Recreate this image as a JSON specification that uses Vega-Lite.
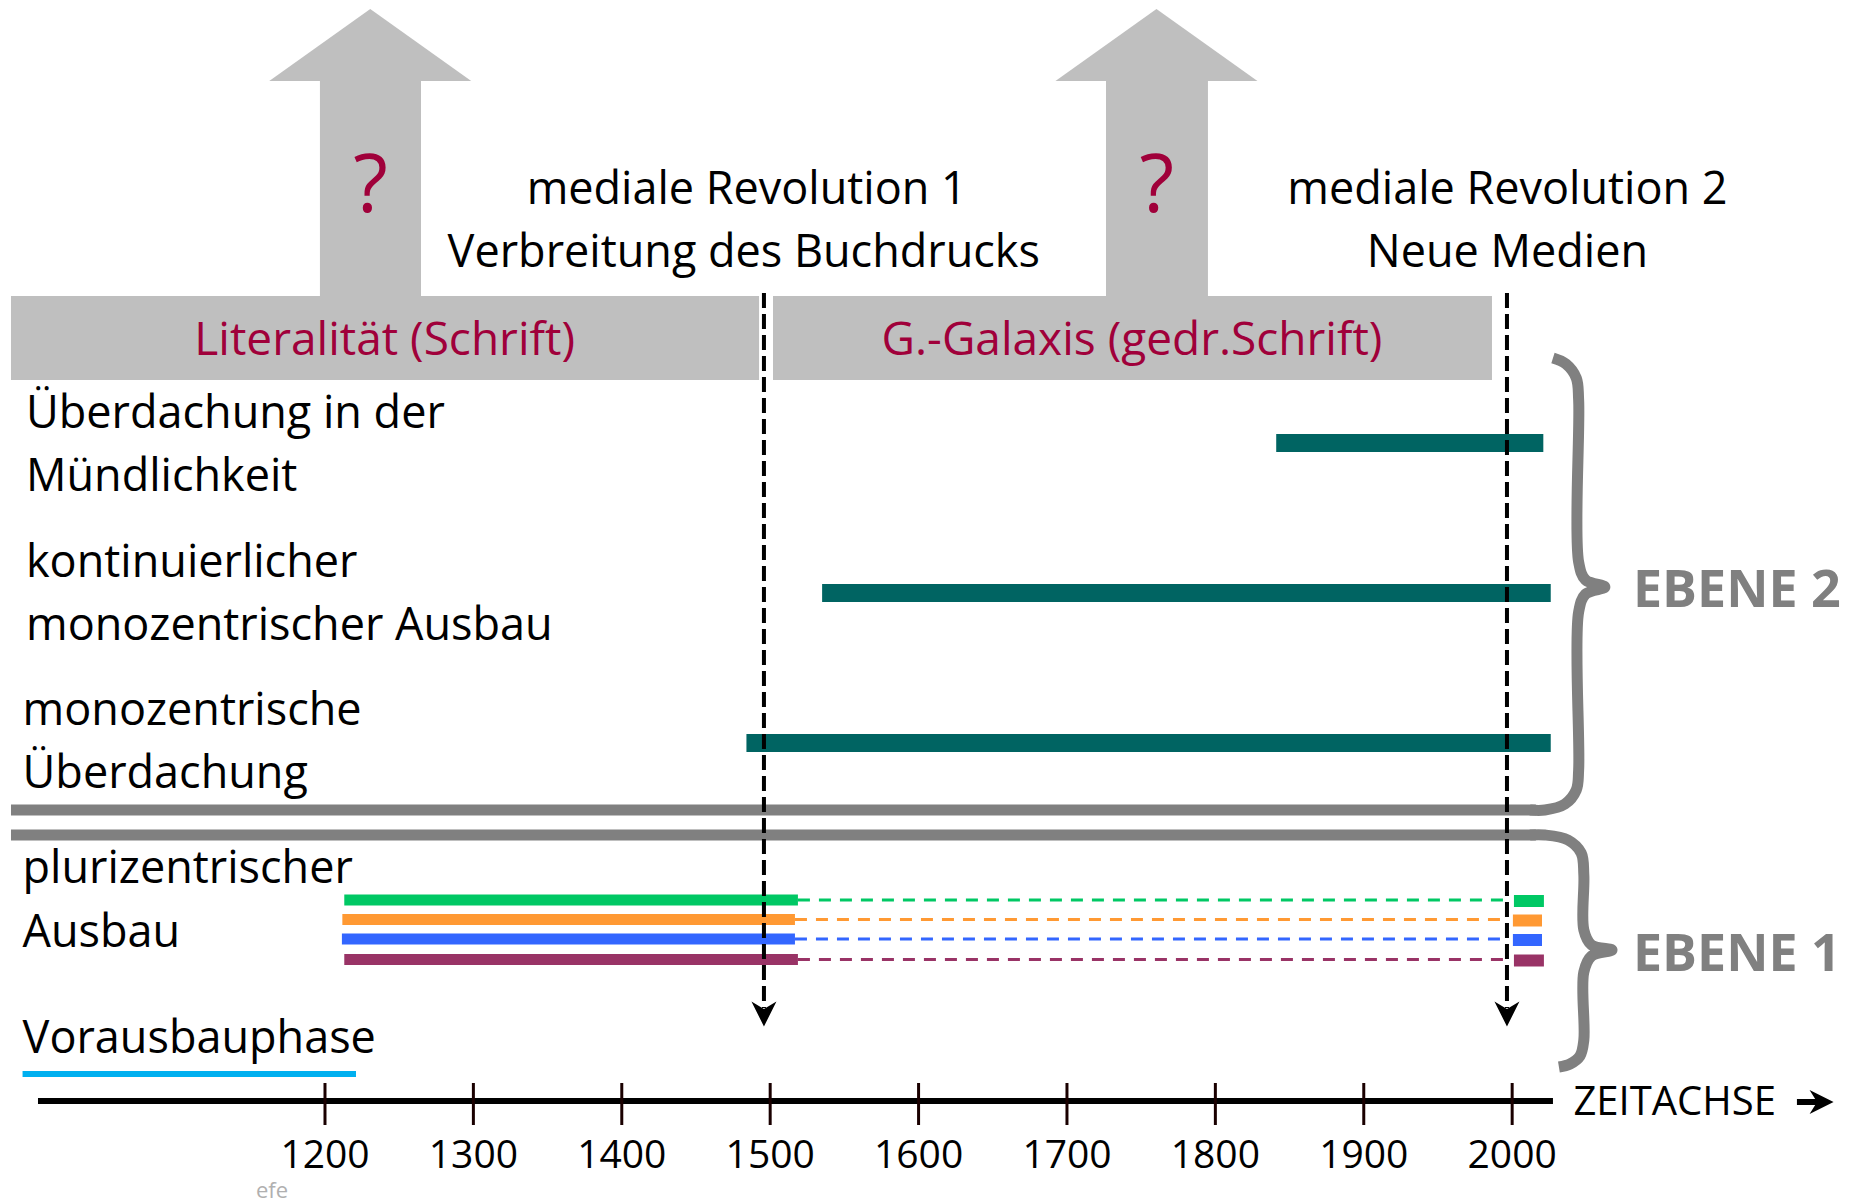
{
  "$schema": "https://vega.github.io/schema/vega-lite/v6.json",
  "width": 1860,
  "height": 1204,
  "autosize": {"type": "fit", "contains": "padding"},
  "padding": 0,
  "background": "white",
  "config": {"view": {"stroke": null}, "text": {"font": "Open Sans"}},
  "datasets": {
    "grayrects": [
      {"x": 1196.6, "x2": 1264.7, "y": 78, "y2": 297},
      {"x": 1726.3, "x2": 1795, "y": 78, "y2": 297},
      {"x": 988.4, "x2": 1492.5, "y": 296, "y2": 380},
      {"x": 1501.9, "x2": 1986.4, "y": 296, "y2": 380}
    ],
    "heads": [{"x": 1230.5, "y": 45}, {"x": 1760.3, "y": 45}],
    "question": [{"x": 1230.7, "y": 212, "t": "?"}, {"x": 1760.5, "y": 212, "t": "?"}],
    "headings": [
      {"x": 1484.2, "y": 204, "t": "mediale Revolution 1"},
      {"x": 1482.2, "y": 267, "t": "Verbreitung des Buchdrucks"},
      {"x": 1996.8, "y": 204, "t": "mediale Revolution 2"},
      {"x": 1996.8, "y": 267, "t": "Neue Medien"}
    ],
    "phases": [
      {"x": 1240.2, "y": 355, "t": "Literalität (Schrift)"},
      {"x": 1743.8, "y": 355, "t": "G.-Galaxis (gedr.Schrift)"}
    ],
    "labels": [
      {"x": 998.5, "y": 428, "t": "Überdachung in der"},
      {"x": 998.5, "y": 491, "t": "Mündlichkeit"},
      {"x": 998.5, "y": 577, "t": "kontinuierlicher"},
      {"x": 998.5, "y": 640, "t": "monozentrischer Ausbau"},
      {"x": 996.2, "y": 725, "t": "monozentrische"},
      {"x": 996.2, "y": 788, "t": "Überdachung"},
      {"x": 996.2, "y": 883, "t": "plurizentrischer"},
      {"x": 996.2, "y": 947, "t": "Ausbau"},
      {"x": 996.2, "y": 1053, "t": "Vorausbauphase"}
    ],
    "ebene": [
      {"x": 2081.4, "y": 607, "t": "EBENE 2"},
      {"x": 2081.4, "y": 971, "t": "EBENE 1"}
    ],
    "teal": [
      {"x": 1841, "x2": 2021, "y": 443},
      {"x": 1535, "x2": 2026, "y": 593},
      {"x": 1484, "x2": 2026, "y": 743}
    ],
    "pluri": [
      {"part": "solid", "s": "g", "x": 1213, "x2": 1518.7, "y": 900},
      {"part": "solid", "s": "o", "x": 1211.7, "x2": 1516.7, "y": 919.5},
      {"part": "solid", "s": "b", "x": 1211.4, "x2": 1516.7, "y": 939},
      {"part": "solid", "s": "p", "x": 1213, "x2": 1518.7, "y": 959.5},
      {"part": "dash", "s": "g", "x": 1518.7, "x2": 1997.2, "y": 900},
      {"part": "dash", "s": "o", "x": 1516.7, "x2": 1997.2, "y": 919.5},
      {"part": "dash", "s": "b", "x": 1516.7, "x2": 1997.2, "y": 939},
      {"part": "dash", "s": "p", "x": 1518.7, "x2": 1997.2, "y": 959.5},
      {"part": "end", "s": "g", "x": 2001.2, "x2": 2021.4, "y": 901},
      {"part": "end", "s": "o", "x": 2000.5, "x2": 2020.1, "y": 920.5},
      {"part": "end", "s": "b", "x": 2000.5, "x2": 2020.1, "y": 940},
      {"part": "end", "s": "p", "x": 2001.2, "x2": 2021.4, "y": 960.5}
    ],
    "vlines": [{"x": 1495.8, "y": 293, "y2": 1008}, {"x": 1996.5, "y": 293, "y2": 1008}],
    "vheads": [{"x": 1495.8, "y": 1014}, {"x": 1996.5, "y": 1014}],
    "axisline": [{"x": 1006.6, "x2": 2027.5, "y": 1101}],
    "ticks": [
      {"year": 1200, "label": "1200"}, {"year": 1300, "label": "1300"}, {"year": 1400, "label": "1400"},
      {"year": 1500, "label": "1500"}, {"year": 1600, "label": "1600"}, {"year": 1700, "label": "1700"},
      {"year": 1800, "label": "1800"}, {"year": 1900, "label": "1900"}, {"year": 2000, "label": "2000"}
    ],
    "underline": [{"x": 996.2, "x2": 1220.9, "y": 1074}],
    "separators": [
      {"x": 988.4, "x2": 2016, "y": 810},
      {"x": 988.4, "x2": 2016, "y": 835}
    ],
    "braces": [
      {"b": 2, "o": 1, "x": 2012, "y": 810},
      {"b": 2, "o": 2, "x": 2022.1, "y": 810},
      {"b": 2, "o": 3, "x": 2035.6, "y": 804},
      {"b": 2, "o": 4, "x": 2043.2, "y": 790},
      {"b": 2, "o": 5, "x": 2044.8, "y": 770},
      {"b": 2, "o": 6, "x": 2044.8, "y": 612},
      {"b": 2, "o": 7, "x": 2049.5, "y": 594},
      {"b": 2, "o": 8, "x": 2062.5, "y": 587},
      {"b": 2, "o": 9, "x": 2049.5, "y": 580},
      {"b": 2, "o": 10, "x": 2044.8, "y": 562},
      {"b": 2, "o": 11, "x": 2044.8, "y": 400},
      {"b": 2, "o": 12, "x": 2043.2, "y": 378},
      {"b": 2, "o": 13, "x": 2036.3, "y": 364},
      {"b": 2, "o": 14, "x": 2027.5, "y": 358},
      {"b": 1, "o": 1, "x": 2012, "y": 835},
      {"b": 1, "o": 2, "x": 2022.1, "y": 835},
      {"b": 1, "o": 3, "x": 2037.6, "y": 840},
      {"b": 1, "o": 4, "x": 2046.5, "y": 853},
      {"b": 1, "o": 5, "x": 2048.3, "y": 875},
      {"b": 1, "o": 6, "x": 2048.3, "y": 930},
      {"b": 1, "o": 7, "x": 2053.5, "y": 945},
      {"b": 1, "o": 8, "x": 2067.3, "y": 950},
      {"b": 1, "o": 9, "x": 2053.5, "y": 956},
      {"b": 1, "o": 10, "x": 2048.3, "y": 972},
      {"b": 1, "o": 11, "x": 2048.3, "y": 1040},
      {"b": 1, "o": 12, "x": 2045.7, "y": 1056},
      {"b": 1, "o": 13, "x": 2039, "y": 1064},
      {"b": 1, "o": 14, "x": 2031.5, "y": 1067}
    ],
    "zeit": [{"x": 2041.3, "y": 1115, "t": "ZEITACHSE"}],
    "zshaft": [{"x": 2191.9, "x2": 2210, "y": 1102}],
    "zhead": [{"x": 2208.5, "y": 1102}],
    "efe": [{"x": 1164.3, "y": 1198, "t": "efe"}]
  },
  "layer": [
    {
      "data": {"name": "grayrects"},
      "mark": {"type": "rect", "color": "#BFBFBF"},
      "encoding": {
        "x": {"field": "x", "type": "quantitative", "scale": {"domain": [981, 2234.4], "nice": false, "zero": false}, "axis": null},
        "x2": {"field": "x2"},
        "y": {"field": "y", "type": "quantitative", "scale": {"domain": [0, 1204], "reverse": true, "nice": false, "zero": false}, "axis": null},
        "y2": {"field": "y2"}
      }
    },
    {
      "data": {"name": "heads"},
      "mark": {"type": "point", "filled": true, "color": "#BFBFBF", "opacity": 1, "shape": "M-1,0.356L0,-0.356L1,0.356Z", "size": 40804, "strokeWidth": 0},
      "encoding": {
        "x": {"field": "x", "type": "quantitative", "scale": {"domain": [981, 2234.4], "nice": false, "zero": false}, "axis": null},
        "y": {"field": "y", "type": "quantitative", "scale": {"domain": [0, 1204], "reverse": true, "nice": false, "zero": false}, "axis": null}
      }
    },
    {
      "data": {"name": "question"},
      "mark": {"type": "text", "color": "#A0003A", "fontSize": 80, "align": "center", "baseline": "alphabetic"},
      "encoding": {
        "x": {"field": "x", "type": "quantitative", "scale": {"domain": [981, 2234.4], "nice": false, "zero": false}, "axis": null},
        "y": {"field": "y", "type": "quantitative", "scale": {"domain": [0, 1204], "reverse": true, "nice": false, "zero": false}, "axis": null},
        "text": {"field": "t"}
      }
    },
    {
      "data": {"name": "headings"},
      "mark": {"type": "text", "color": "#000000", "fontSize": 45, "align": "center", "baseline": "alphabetic"},
      "encoding": {
        "x": {"field": "x", "type": "quantitative", "scale": {"domain": [981, 2234.4], "nice": false, "zero": false}, "axis": null},
        "y": {"field": "y", "type": "quantitative", "scale": {"domain": [0, 1204], "reverse": true, "nice": false, "zero": false}, "axis": null},
        "text": {"field": "t"}
      }
    },
    {
      "data": {"name": "phases"},
      "mark": {"type": "text", "color": "#A0003A", "fontSize": 46, "align": "center", "baseline": "alphabetic"},
      "encoding": {
        "x": {"field": "x", "type": "quantitative", "scale": {"domain": [981, 2234.4], "nice": false, "zero": false}, "axis": null},
        "y": {"field": "y", "type": "quantitative", "scale": {"domain": [0, 1204], "reverse": true, "nice": false, "zero": false}, "axis": null},
        "text": {"field": "t"}
      }
    },
    {
      "data": {"name": "labels"},
      "mark": {"type": "text", "color": "#000000", "fontSize": 45, "align": "left", "baseline": "alphabetic"},
      "encoding": {
        "x": {"field": "x", "type": "quantitative", "scale": {"domain": [981, 2234.4], "nice": false, "zero": false}, "axis": null},
        "y": {"field": "y", "type": "quantitative", "scale": {"domain": [0, 1204], "reverse": true, "nice": false, "zero": false}, "axis": null},
        "text": {"field": "t"}
      }
    },
    {
      "data": {"name": "underline"},
      "mark": {"type": "rule", "color": "#00B0F0", "strokeWidth": 6},
      "encoding": {
        "x": {"field": "x", "type": "quantitative", "scale": {"domain": [981, 2234.4], "nice": false, "zero": false}, "axis": null},
        "x2": {"field": "x2"},
        "y": {"field": "y", "type": "quantitative", "scale": {"domain": [0, 1204], "reverse": true, "nice": false, "zero": false}, "axis": null}
      }
    },
    {
      "data": {"name": "separators"},
      "mark": {"type": "rule", "color": "#808080", "strokeWidth": 11, "strokeCap": "butt"},
      "encoding": {
        "x": {"field": "x", "type": "quantitative", "scale": {"domain": [981, 2234.4], "nice": false, "zero": false}, "axis": null},
        "x2": {"field": "x2"},
        "y": {"field": "y", "type": "quantitative", "scale": {"domain": [0, 1204], "reverse": true, "nice": false, "zero": false}, "axis": null}
      }
    },
    {
      "data": {"name": "braces"},
      "mark": {"type": "line", "color": "#808080", "strokeWidth": 11, "interpolate": "catmull-rom", "strokeCap": "butt", "strokeJoin": "round"},
      "encoding": {
        "x": {"field": "x", "type": "quantitative", "scale": {"domain": [981, 2234.4], "nice": false, "zero": false}, "axis": null},
        "y": {"field": "y", "type": "quantitative", "scale": {"domain": [0, 1204], "reverse": true, "nice": false, "zero": false}, "axis": null},
        "detail": {"field": "b", "type": "nominal"},
        "order": {"field": "o", "type": "quantitative"}
      }
    },
    {
      "data": {"name": "ebene"},
      "mark": {"type": "text", "color": "#808080", "fontSize": 52, "fontWeight": "bold", "align": "left", "baseline": "alphabetic"},
      "encoding": {
        "x": {"field": "x", "type": "quantitative", "scale": {"domain": [981, 2234.4], "nice": false, "zero": false}, "axis": null},
        "y": {"field": "y", "type": "quantitative", "scale": {"domain": [0, 1204], "reverse": true, "nice": false, "zero": false}, "axis": null},
        "text": {"field": "t"}
      }
    },
    {
      "data": {"name": "teal"},
      "mark": {"type": "rule", "color": "#006462", "strokeWidth": 18, "strokeCap": "butt"},
      "encoding": {
        "x": {"field": "x", "type": "quantitative", "scale": {"domain": [981, 2234.4], "nice": false, "zero": false}, "axis": null},
        "x2": {"field": "x2"},
        "y": {"field": "y", "type": "quantitative", "scale": {"domain": [0, 1204], "reverse": true, "nice": false, "zero": false}, "axis": null}
      }
    },
    {
      "data": {"name": "pluri"},
      "transform": [{"filter": "datum.part === 'solid'"}],
      "mark": {"type": "rule", "strokeWidth": 11, "strokeCap": "butt"},
      "encoding": {
        "x": {"field": "x", "type": "quantitative", "scale": {"domain": [981, 2234.4], "nice": false, "zero": false}, "axis": null},
        "x2": {"field": "x2"},
        "y": {"field": "y", "type": "quantitative", "scale": {"domain": [0, 1204], "reverse": true, "nice": false, "zero": false}, "axis": null},
        "color": {"field": "s", "type": "nominal", "scale": {"domain": ["g", "o", "b", "p"], "range": ["#00C864", "#FF9933", "#3366FF", "#993366"]}, "legend": null}
      }
    },
    {
      "data": {"name": "pluri"},
      "transform": [{"filter": "datum.part === 'dash'"}],
      "mark": {"type": "rule", "strokeWidth": 3, "strokeDash": [12, 9], "strokeCap": "butt"},
      "encoding": {
        "x": {"field": "x", "type": "quantitative", "scale": {"domain": [981, 2234.4], "nice": false, "zero": false}, "axis": null},
        "x2": {"field": "x2"},
        "y": {"field": "y", "type": "quantitative", "scale": {"domain": [0, 1204], "reverse": true, "nice": false, "zero": false}, "axis": null},
        "color": {"field": "s", "type": "nominal", "scale": {"domain": ["g", "o", "b", "p"], "range": ["#00C864", "#FF9933", "#3366FF", "#993366"]}, "legend": null}
      }
    },
    {
      "data": {"name": "pluri"},
      "transform": [{"filter": "datum.part === 'end'"}],
      "mark": {"type": "rule", "strokeWidth": 12, "strokeCap": "butt"},
      "encoding": {
        "x": {"field": "x", "type": "quantitative", "scale": {"domain": [981, 2234.4], "nice": false, "zero": false}, "axis": null},
        "x2": {"field": "x2"},
        "y": {"field": "y", "type": "quantitative", "scale": {"domain": [0, 1204], "reverse": true, "nice": false, "zero": false}, "axis": null},
        "color": {"field": "s", "type": "nominal", "scale": {"domain": ["g", "o", "b", "p"], "range": ["#00C864", "#FF9933", "#3366FF", "#993366"]}, "legend": null}
      }
    },
    {
      "data": {"name": "vlines"},
      "mark": {"type": "rule", "color": "#000000", "strokeWidth": 4, "strokeDash": [15, 6], "strokeCap": "butt"},
      "encoding": {
        "x": {"field": "x", "type": "quantitative", "scale": {"domain": [981, 2234.4], "nice": false, "zero": false}, "axis": null},
        "y": {"field": "y", "type": "quantitative", "scale": {"domain": [0, 1204], "reverse": true, "nice": false, "zero": false}, "axis": null},
        "y2": {"field": "y2"}
      }
    },
    {
      "data": {"name": "vheads"},
      "mark": {"type": "point", "filled": true, "color": "#000000", "opacity": 1, "shape": "M-1,-1L0,1L1,-1L0,-0.4Z", "size": 625, "strokeWidth": 0},
      "encoding": {
        "x": {"field": "x", "type": "quantitative", "scale": {"domain": [981, 2234.4], "nice": false, "zero": false}, "axis": null},
        "y": {"field": "y", "type": "quantitative", "scale": {"domain": [0, 1204], "reverse": true, "nice": false, "zero": false}, "axis": null}
      }
    },
    {
      "data": {"name": "axisline"},
      "mark": {"type": "rule", "color": "#000000", "strokeWidth": 6, "strokeCap": "butt"},
      "encoding": {
        "x": {"field": "x", "type": "quantitative", "scale": {"domain": [981, 2234.4], "nice": false, "zero": false}, "axis": null},
        "x2": {"field": "x2"},
        "y": {"field": "y", "type": "quantitative", "scale": {"domain": [0, 1204], "reverse": true, "nice": false, "zero": false}, "axis": null}
      }
    },
    {
      "data": {"name": "ticks"},
      "mark": {"type": "rule", "color": "#1A0000", "strokeWidth": 3, "y": 1083, "y2": 1125},
      "encoding": {
        "x": {"field": "year", "type": "quantitative", "scale": {"domain": [981, 2234.4], "nice": false, "zero": false}, "axis": null}
      }
    },
    {
      "data": {"name": "ticks"},
      "mark": {"type": "text", "color": "#000000", "fontSize": 39, "align": "center", "baseline": "alphabetic", "y": 1168},
      "encoding": {
        "x": {"field": "year", "type": "quantitative", "scale": {"domain": [981, 2234.4], "nice": false, "zero": false}, "axis": null},
        "text": {"field": "label"}
      }
    },
    {
      "data": {"name": "zeit"},
      "mark": {"type": "text", "color": "#000000", "fontSize": 40, "align": "left", "baseline": "alphabetic"},
      "encoding": {
        "x": {"field": "x", "type": "quantitative", "scale": {"domain": [981, 2234.4], "nice": false, "zero": false}, "axis": null},
        "y": {"field": "y", "type": "quantitative", "scale": {"domain": [0, 1204], "reverse": true, "nice": false, "zero": false}, "axis": null},
        "text": {"field": "t"}
      }
    },
    {
      "data": {"name": "zshaft"},
      "mark": {"type": "rule", "color": "#000000", "strokeWidth": 6, "strokeCap": "butt"},
      "encoding": {
        "x": {"field": "x", "type": "quantitative", "scale": {"domain": [981, 2234.4], "nice": false, "zero": false}, "axis": null},
        "x2": {"field": "x2"},
        "y": {"field": "y", "type": "quantitative", "scale": {"domain": [0, 1204], "reverse": true, "nice": false, "zero": false}, "axis": null}
      }
    },
    {
      "data": {"name": "zhead"},
      "mark": {"type": "point", "filled": true, "color": "#000000", "opacity": 1, "shape": "M-0.8,-0.8L0.8,0L-0.8,0.8L-0.3,0Z", "size": 900, "strokeWidth": 0},
      "encoding": {
        "x": {"field": "x", "type": "quantitative", "scale": {"domain": [981, 2234.4], "nice": false, "zero": false}, "axis": null},
        "y": {"field": "y", "type": "quantitative", "scale": {"domain": [0, 1204], "reverse": true, "nice": false, "zero": false}, "axis": null}
      }
    },
    {
      "data": {"name": "efe"},
      "mark": {"type": "text", "color": "#B0B0B0", "fontSize": 22, "align": "center", "baseline": "alphabetic"},
      "encoding": {
        "x": {"field": "x", "type": "quantitative", "scale": {"domain": [981, 2234.4], "nice": false, "zero": false}, "axis": null},
        "y": {"field": "y", "type": "quantitative", "scale": {"domain": [0, 1204], "reverse": true, "nice": false, "zero": false}, "axis": null},
        "text": {"field": "t"}
      }
    }
  ]
}
